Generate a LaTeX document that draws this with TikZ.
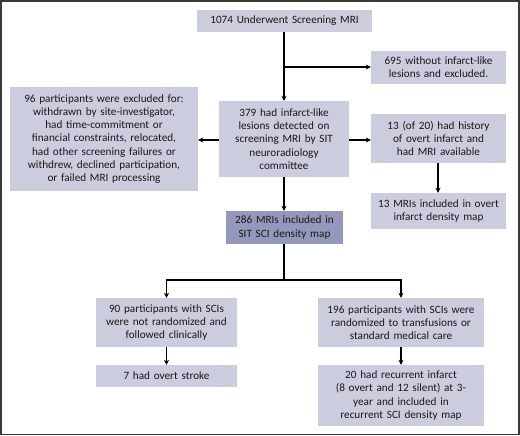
\documentclass[tikz,border=0pt]{standalone}
\usepackage{fontspec}
\setmainfont{Carlito}
\usetikzlibrary{arrows.meta}
\definecolor{boxlight}{HTML}{CBCCDD}
\definecolor{boxdark}{HTML}{9598BD}
\definecolor{framec}{HTML}{3A3A3A}
\tikzset{
  box/.style={fill=boxlight, draw=none, inner sep=0pt, align=center,
    font=\fontsize{11.2}{13.3}\selectfont, text=black!90},
  darkbox/.style={box, fill=boxdark},
  arr/.style={line width=1.1pt, -{Stealth[length=5pt,width=5pt]}},
  ln/.style={line width=1.1pt}
}
\begin{document}
\begin{tikzpicture}[x=1pt,y=-1pt]
\useasboundingbox (0,0) rectangle (520,436);
\draw[framec, line width=1.6pt] (0.8,0.8) rectangle (519.2,434.5);
\node[box, minimum width=175pt, minimum height=22pt, text width=170pt] (b1) at (284.5,21) {1074 Underwent Screening MRI};
\node[box, minimum width=135pt, minimum height=33pt, text width=130pt] (b695) at (438.5,67.5) {695 without infarct-like\\lesions and excluded.};
\node[box, minimum width=188pt, minimum height=104pt, text width=184pt] (b96) at (104,139) {96 participants were excluded for:\\withdrawn by site-investigator,\\had time-commitment or\\financial constraints, relocated,\\had other screening failures or\\withdrew, declined participation,\\or failed MRI processing};
\node[box, minimum width=130pt, minimum height=76pt, text width=126pt] (b379) at (284,139) {379 had infarct-like\\lesions detected on\\screening MRI by SIT\\neuroradiology\\committee};
\node[box, minimum width=135pt, minimum height=49pt, text width=130pt] (b13) at (438.5,138.5) {13 (of 20) had history\\of overt infarct and\\had MRI available};
\node[box, minimum width=135pt, minimum height=36pt, text width=130pt] (b13m) at (438.5,211) {13 MRIs included in overt\\infarct density map};
\node[darkbox, minimum width=117pt, minimum height=33pt, text width=113pt] (b286) at (284.5,227.5) {286 MRIs included in\\SIT SCI density map};
\node[box, minimum width=141pt, minimum height=49pt, text width=137pt] (b90) at (166.5,322.5) {90 participants with SCIs\\were not randomized and\\followed clinically};
\node[box, minimum width=166pt, minimum height=49pt, text width=162pt] (b196) at (401,322.5) {196 participants with SCIs were\\randomized to transfusions or\\standard medical care};
\node[box, minimum width=141pt, minimum height=22pt, text width=137pt] (b7) at (166.5,376) {7 had overt stroke};
\node[box, minimum width=166pt, minimum height=61pt, text width=162pt] (b20) at (401,395.5) {20 had recurrent infarct\\(8 overt and 12 silent) at 3-\\year and included in\\recurrent SCI density map};
\coordinate (j1) at (284,67);
\coordinate (j2) at (284,280);
\draw[arr] (b1.south -| j1) -- (b379.north -| j1);
\draw[arr] (j1) -- (b695.west |- j1);
\draw[arr] (b379.west |- 0,140) -- (b96.east |- 0,140);
\draw[arr] (b379.east |- 0,140) -- (b13.west |- 0,140);
\draw[arr] (b13.south -| 438,0) -- (b13m.north -| 438,0);
\draw[arr] (b379.south -| j1) -- (b286.north -| j1);
\draw[ln] (b286.south -| j2) -- (j2);
\draw[arr] (j2) -| (b90.north);
\draw[arr] (j2) -| (b196.north);
\draw[arr] (b90) -- (b7);
\draw[arr] (b196) -- (b20);
\end{tikzpicture}
\end{document}
